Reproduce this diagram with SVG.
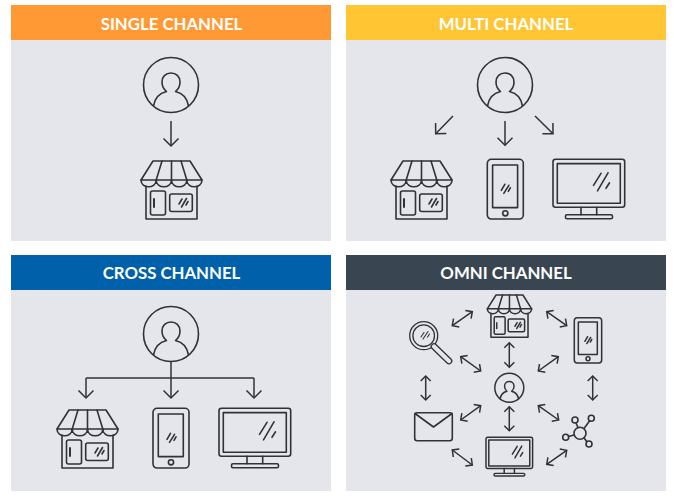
<svg xmlns="http://www.w3.org/2000/svg" xmlns:xlink="http://www.w3.org/1999/xlink" width="674" height="503" viewBox="0 0 674 503">
<style>
.panel{fill:#e4e6eb}
.title{font-family:Lato,"Liberation Sans",sans-serif;font-weight:700;font-size:16.800px;fill:#fff;text-anchor:middle}
.ic{fill:none;stroke:#2f3237;stroke-width:1.600;stroke-linejoin:round;stroke-linecap:round}
.ar{fill:none;stroke:#2f3237;stroke-width:1.500}
.one{marker-end:url(#h)}
.two{marker-start:url(#s);marker-end:url(#s)}
</style>
<defs>
<marker id="h" markerUnits="userSpaceOnUse" markerWidth="20" markerHeight="20" refX="10" refY="10" orient="auto-start-reverse"><path d="M2.500 2.500L10 10L2.500 17.500" fill="none" stroke="#2f3237" stroke-width="1.500"/></marker>
<marker id="s" markerUnits="userSpaceOnUse" markerWidth="20" markerHeight="20" refX="10" refY="10" orient="auto-start-reverse"><path d="M5 5L10 10L5 15" fill="none" stroke="#2f3237" stroke-width="1.500"/></marker>
<g id="store">
<path d="M12 1H49L61 20H0Z"/>
<path d="M5 26V59H56V26"/>
<path d="M0 20C0 29 15.200 29 15.200 20C15.200 29 30.500 29 30.500 20C30.500 29 45.800 29 45.800 20C45.800 29 61 29 61 20"/>
<path d="M21 1L15.200 20M30.500 1V20M40 1L45.800 20"/>
<rect x="9.500" y="31" width="15" height="24" rx="2"/>
<path d="M13 39V47" stroke-width="2"/>
<rect x="28.700" y="34" width="22.600" height="17.500" rx="2"/>
<path d="M38 44L41 39M40.500 47L45.500 38.500M45 45L47 41.500"/>
</g>
<g id="person">
<circle cx="0" cy="0" r="27.500"/>
<path d="M-17.500 21C-16 12 -11 8 -4.500 6.500C-7.500 4 -9 1 -9 -3C-9 -8.500 -5 -12 0 -12C5 -12 9 -8.500 9 -3C9 1 7.500 4 4.500 6.500C11 8 16 12 17.500 21"/>
</g>
<g id="phone">
<rect x="0" y="0" width="36" height="59.700" rx="4"/>
<rect x="5.300" y="5.700" width="25" height="42.600"/>
<circle cx="18" cy="54" r="2.600"/>
<path d="M14 31L17.500 25M16.500 34L21.500 26M21 32L23 28.500"/>
</g>
<g id="monitor">
<rect x="0" y="0" width="71.700" height="48" rx="2.500"/>
<rect x="4.300" y="4.300" width="63" height="39.700"/>
<path d="M28 48V55.500M43.700 48V55.500"/>
<rect x="12.500" y="55.500" width="47" height="4" rx="1.500"/>
<path d="M40.500 26L48 14M44.500 31.500L55 13.500M53 29L56.500 23.500"/>
</g>
</defs>

<g id="single-channel">
<rect class="panel" x="11" y="5" width="320" height="236"/>
<rect x="11" y="5" width="320" height="35" fill="#ff9933"/>
<text class="title" x="171.500" y="29.500">SINGLE CHANNEL</text>
<use href="#person" class="ic" x="171" y="85"/>
<use href="#store" class="ic" x="141" y="160"/>
</g>
<g id="multi-channel">
<rect class="panel" x="346" y="5" width="320" height="236"/>
<rect x="346" y="5" width="320" height="35" fill="#ffc533"/>
<text class="title" x="506" y="29.500">MULTI CHANNEL</text>
<use href="#person" class="ic" x="505" y="85"/>
<use href="#store" class="ic" x="391" y="160"/>
<use href="#phone" class="ic" x="487.300" y="159.300"/>
<use href="#monitor" class="ic" x="553" y="159.300"/>
</g>
<g id="cross-channel">
<rect class="panel" x="11" y="255" width="320" height="236"/>
<rect x="11" y="255" width="320" height="35" fill="#0060a9"/>
<text class="title" x="171.500" y="278.500">CROSS CHANNEL</text>
<use href="#person" class="ic" x="171" y="334"/>
<use href="#store" class="ic" x="57" y="409"/>
<use href="#phone" class="ic" x="153" y="408.300"/>
<use href="#monitor" class="ic" x="219" y="408.300"/>
</g>
<g id="omni-channel">
<rect class="panel" x="346" y="255" width="320" height="236"/>
<rect x="346" y="255" width="320" height="35" fill="#3a4552"/>
<text class="title" x="506" y="278.500">OMNI CHANNEL</text>
<g id="omni-store" class="ic"><use href="#store" transform="translate(487.300 294.300) scale(.727)" style="stroke-width:2.100"/></g>
<g id="omni-phone" class="ic"><use href="#phone" transform="translate(574.300 317.700) scale(.76)" style="stroke-width:2"/></g>
<g id="omni-person" class="ic"><use href="#person" transform="translate(509.300 387.800) scale(.527)" style="stroke-width:2.800"/></g>
<g id="omni-monitor" class="ic"><use href="#monitor" transform="translate(486 437.300) scale(.65)" style="stroke-width:2.300"/></g>
<g id="omni-search" class="ic">
<circle cx="423.700" cy="335.700" r="14" stroke-width="1.300"/>
<circle cx="423.700" cy="335.700" r="10.800" stroke-width="1.300"/>
<path d="M434 346.500L449 361" stroke-width="6.800"/>
<path d="M434 346.500L449 361" stroke="#e4e6eb" stroke-width="4.200"/>
<path d="M421 337L424 332.500M423 339L428 331.500M427.500 337L429.500 334" stroke-width="1.100"/>
</g>
<g id="omni-mail" class="ic">
<rect x="414.700" y="412.700" width="37.600" height="28" rx="2.500"/>
<path d="M415 413.500L433.500 427L452 413.500"/>
</g>
<g id="omni-network" class="ic">
<circle cx="580" cy="433.300" r="6"/>
<circle cx="575" cy="420" r="3"/>
<circle cx="591.300" cy="418.300" r="3"/>
<circle cx="565.700" cy="437.300" r="3"/>
<circle cx="589" cy="444" r="3"/>
<path d="M576 423L578 427.500M589.500 421L584 428.500M568.500 436.500L574 435M586.800 441.800L584 437.800"/>
</g>
</g>
<g id="connectors">
<path class="ar one" d="M171 121V146"/>
<path class="ar one" d="M505 121V145.300"/>
<path class="ar one" d="M453 116L435.700 133.700"/>
<path class="ar one" d="M535 116L553 133.700"/>
<path class="ar" d="M86 378H254"/>
<path class="ar one" d="M171 361V398"/>
<path class="ar one" d="M86 378V398"/>
<path class="ar one" d="M254 378V398"/>
<path class="ar two" d="M452.300 325.700L472.300 311.700"/>
<path class="ar two" d="M546.700 311.700L566.700 325.700"/>
<path class="ar two" d="M509.300 342.700V367.300"/>
<path class="ar two" d="M460.700 356.700L480.700 371"/>
<path class="ar two" d="M538.300 371L558.300 356.700"/>
<path class="ar two" d="M425.700 376V400"/>
<path class="ar two" d="M592.700 376V400"/>
<path class="ar two" d="M460.700 420L480.700 405.700"/>
<path class="ar two" d="M538.300 405.700L558.700 420"/>
<path class="ar two" d="M509.300 406.700V430.700"/>
<path class="ar two" d="M452.300 450L472.300 465"/>
<path class="ar two" d="M546.700 464.300L566.700 450.300"/>
</g>
</svg>
